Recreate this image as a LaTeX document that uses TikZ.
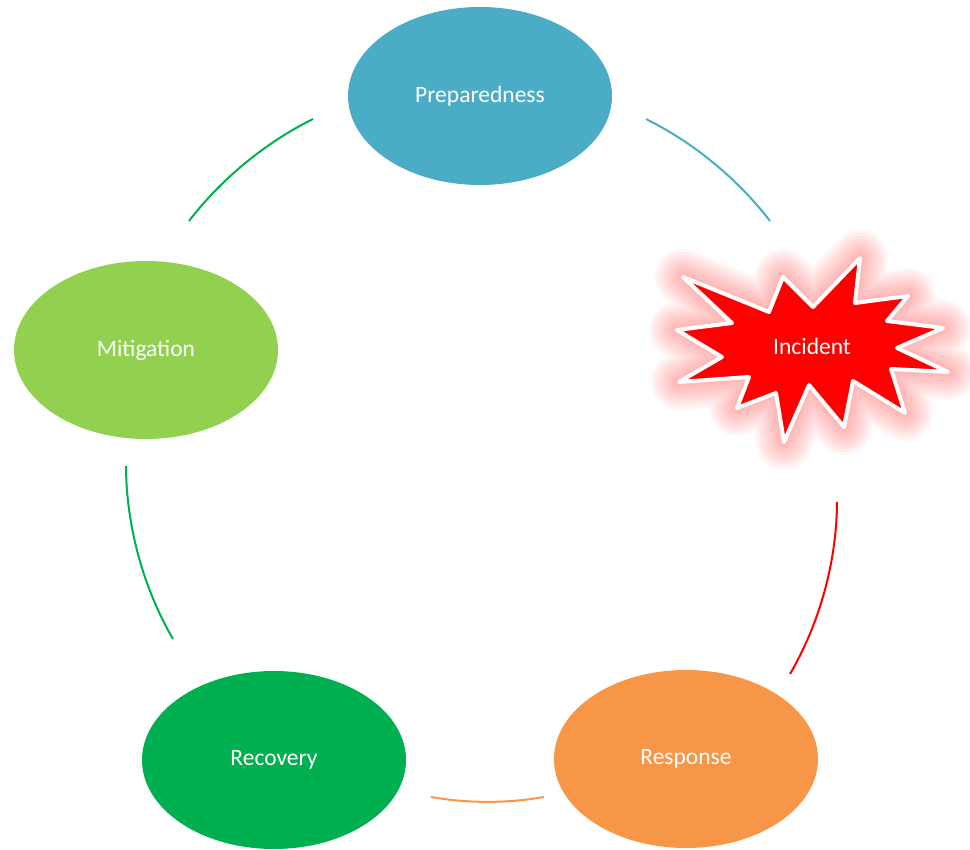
\documentclass[tikz,border=0pt]{standalone}
\usepackage{fontspec}
\setmainfont{Carlito}
\usepackage{tikz}
\usetikzlibrary{shapes.geometric,positioning}
\definecolor{prepblue}{HTML}{4BACC6}
\definecolor{mitigreen}{HTML}{92D050}
\definecolor{recogreen}{HTML}{00B050}
\definecolor{resporange}{HTML}{F79646}
\tikzset{
  phase/.style = {ellipse, minimum width=264pt, minimum height=178pt, inner sep=0pt,
                  text=white, font=\fontsize{23.5}{28}\selectfont},
  cyclearc/.style = {line width=2pt, looseness=0.85},
  glowlayer/.style = {red!85!white, draw opacity=0.045, line join=round},
}
% the star outline, in pixel units
\newcommand{\burstpath}{(683,277) -- (769,312) -- (783,277) -- (813,307) -- (860,258)
  -- (855,303) -- (908,296) -- (887,321) -- (943,328) -- (897,348) -- (948,372)
  -- (891,369) -- (905,413) -- (853,381) -- (844,427) -- (809,385) -- (784,442)
  -- (776,393) -- (737,408) -- (749,377) -- (679,382) -- (722,357) -- (677,330)
  -- (732,323) -- cycle}

\begin{document}
\begin{tikzpicture}[x=1pt,y=-1pt]
  \useasboundingbox (0,0) rectangle (970,850);

  \node[phase, fill=prepblue] (prep) at (480,96) {Preparedness};
  \node[phase, fill=mitigreen] (miti) at (146,350) {Mitigation};
  \node[phase, fill=recogreen] (reco) at (274,760) {Recovery};
  \node[phase, fill=resporange] (resp) at (686,759) {Response};

  % incident burst with glow
  \foreach \w in {56,50,...,8}
    \draw[glowlayer, line width=\w pt] \burstpath;
  \draw[fill=red, draw=white, line width=4pt, line join=round] \burstpath;
  \node[text=white, font=\fontsize{23.5}{28}\selectfont] (incident) at (812,346) {Incident};

  % arc ends
  \coordinate (pi1) at (646,119);
  \coordinate (pi2) at (770,221);
  \coordinate (ir1) at (837,502);
  \coordinate (ir2) at (790,674);
  \coordinate (rr1) at (544,797);
  \coordinate (rr2) at (431,797);
  \coordinate (rm1) at (173,639);
  \coordinate (rm2) at (126,466);
  \coordinate (mp1) at (189,221);
  \coordinate (mp2) at (313,119);

  \draw[cyclearc, prepblue] (pi1) to[bend left=13] (pi2);
  \draw[cyclearc, red] (ir1) to[bend left=15] (ir2);
  \draw[cyclearc, resporange] (rr1) to[bend left=10] (rr2);
  \draw[cyclearc, recogreen] (rm1) to[bend left=15] (rm2);
  \draw[cyclearc, recogreen] (mp1) to[bend left=13] (mp2);
\end{tikzpicture}
\end{document}
